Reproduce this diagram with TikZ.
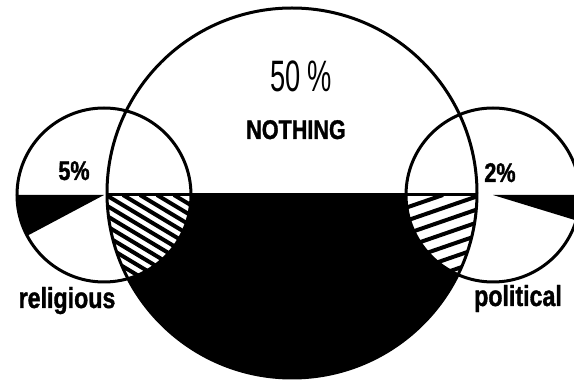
\documentclass[tikz,border=0pt]{standalone}
\usepackage{fontspec}
\usepackage{tikz}
\newfontfamily\boldcond[FakeStretch=0.8,FakeBold=1.2]{Liberation Sans Bold}
\newfontfamily\lightcond[FakeStretch=0.62]{Liberation Sans}
\tikzset{
  ringline/.style={draw=black,line width=3pt},
  hatchline/.style={draw=black,line width=4pt},
  bignum/.style={inner sep=0pt,anchor=base,font=\lightcond\fontsize{44}{44}\selectfont},
  boldlabel/.style={inner sep=0pt,anchor=base,font=\boldcond\fontsize{27}{27}\selectfont},
  sidelabel/.style={inner sep=0pt,anchor=base,font=\boldcond\fontsize{29}{29}\selectfont},
  pctlabel/.style={inner sep=0pt,anchor=base,font=\boldcond\fontsize{27}{27}\selectfont},
}

\begin{document}
\begin{tikzpicture}[x=1pt,y=1pt]
        \useasboundingbox (0,0) rectangle (574,380);
        \coordinate (bigc) at (292,187);
        \coordinate (relc) at (104,185);
        \coordinate (polc) at (493,185);
        \coordinate (lineL) at (107,185);
        \coordinate (lineR) at (477,185);
        \begin{scope}
          \clip (0,0) rectangle (574,185);
          \fill[black] (bigc) circle (185);
        \end{scope}
        \begin{scope}
          \clip (0,0) rectangle (574,185);
          \clip (bigc) circle (185);
          \clip (relc) circle (87);
          \fill[white] (relc) circle (87);
          \foreach \x in {-30,-13,...,220}
            \draw[hatchline] (\x,185) -- ++(-31:220);
        \end{scope}
        \begin{scope}
          \clip (0,0) rectangle (574,185);
          \clip (bigc) circle (185);
          \clip (polc) circle (87);
          \fill[white] (polc) circle (87);
          \foreach \x in {405,443,...,780}
            \draw[hatchline] (\x,185) -- ++(-161:420);
        \end{scope}
        \fill[black] (relc) -- ++(180:87) arc[start angle=180,end angle=208,radius=87] -- cycle;
        \fill[black] (polc) -- ++(0:87) arc[start angle=0,end angle=-17,radius=87] -- cycle;
        \draw[ringline] (bigc) circle (185);
        \draw[ringline] (relc) circle (87);
        \draw[ringline] (polc) circle (87);
        \draw[black,line width=3pt] (lineL) -- (lineR);
        \node[bignum] (fifty) at (301,288) {50\,\%};
        \node[boldlabel] (nothing) at (296,241) {NOTHING};
        \node[pctlabel] (relpct) at (74,200) {5\%};
        \node[pctlabel] (polpct) at (500,198) {2\%};
        \node[sidelabel] (religious) at (67,72) {religious};
        \node[sidelabel] (political) at (518,74) {political};
      \end{tikzpicture}
\end{document}
